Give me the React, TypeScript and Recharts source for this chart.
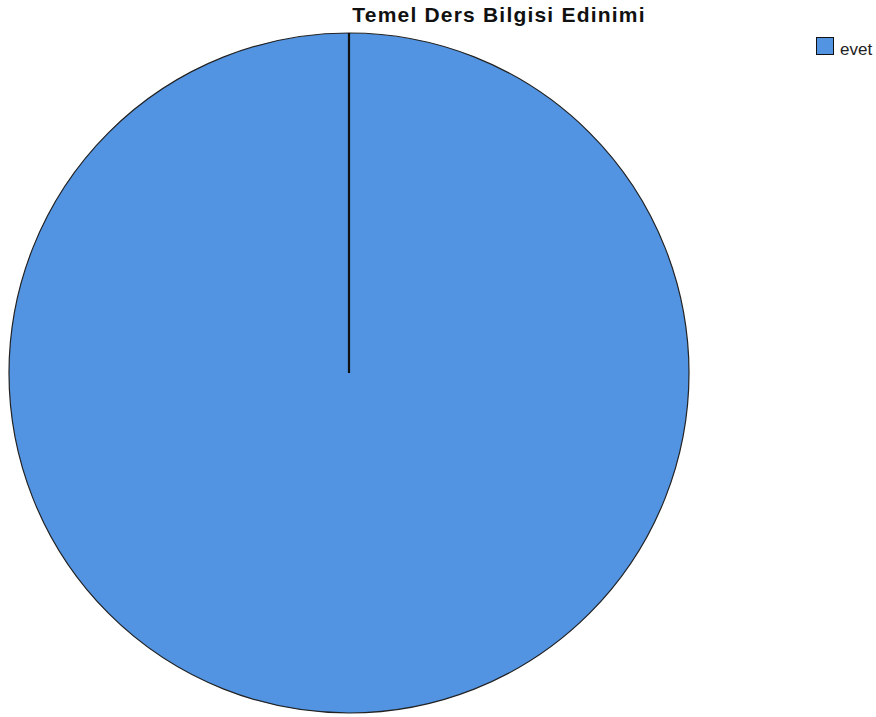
import { Pie, PieChart, Sector, Legend } from "recharts";

const categories = ["evet"];
const values = [100];
const COLORS = ["#5294e2"];

const data = categories.map((name, i) => ({ name, value: values[i] }));

const TITLE = "Temel Ders Bilgisi Edinimi";

const FONT = "'Liberation Sans', Arial, sans-serif";

function SliceShape(props: any) {
  const { cx, cy, outerRadius, startAngle } = props;
  const rad = (-startAngle * Math.PI) / 180;
  const x2 = cx + outerRadius * Math.cos(rad);
  const y2 = cy + outerRadius * Math.sin(rad);
  return (
    <g>
      <Sector {...props} stroke="none" />
      <circle cx={cx} cy={cy} r={outerRadius} fill="none" stroke="#222" strokeWidth={1.2} />
      <line x1={cx} y1={cy} x2={x2} y2={y2} stroke="#111" strokeWidth={2.2} />
    </g>
  );
}

function LegendBox() {
  return (
    <div style={{ position: "relative", width: 60, height: 24, fontFamily: FONT, fontSize: 17, color: "#222" }}>
      {data.map((d, i) => (
        <div key={d.name}>
          <span
            style={{
              position: "absolute",
              left: 0,
              top: 0,
              width: 16,
              height: 16,
              background: COLORS[i % COLORS.length],
              border: "1.5px solid #111",
            }}
          />
          <span style={{ position: "absolute", left: 24, top: 3, lineHeight: "normal", whiteSpace: "nowrap" }}>
            {d.name}
          </span>
        </div>
      ))}
    </div>
  );
}

export default function App() {
  return (
    <div style={{ position: "absolute", left: 0, top: 0, width: 876, height: 717, background: "#fff" }}>
      <div
        style={{
          position: "absolute",
          left: 0,
          width: 998,
          top: 3,
          textAlign: "center",
          fontFamily: FONT,
          fontWeight: "bold",
          fontSize: 21,
          letterSpacing: 1.2,
          color: "#111",
        }}
      >
        {TITLE}
      </div>
      <PieChart
        width={876}
        height={717}
        margin={{ top: 0, right: 0, bottom: 0, left: 0 }}
        style={{ position: "absolute", left: 0, top: 0 }}
      >
        <Pie
          data={data}
          dataKey="value"
          nameKey="name"
          cx={349}
          cy={373}
          outerRadius={340}
          startAngle={90}
          endAngle={-270}
          fill={COLORS[0]}
          shape={SliceShape}
          isAnimationActive={false}
        />
        <Legend
          layout="vertical"
          align="right"
          verticalAlign="top"
          wrapperStyle={{ left: 816, top: 37, width: 60 }}
          content={() => <LegendBox />}
        />
      </PieChart>
    </div>
  );
}
